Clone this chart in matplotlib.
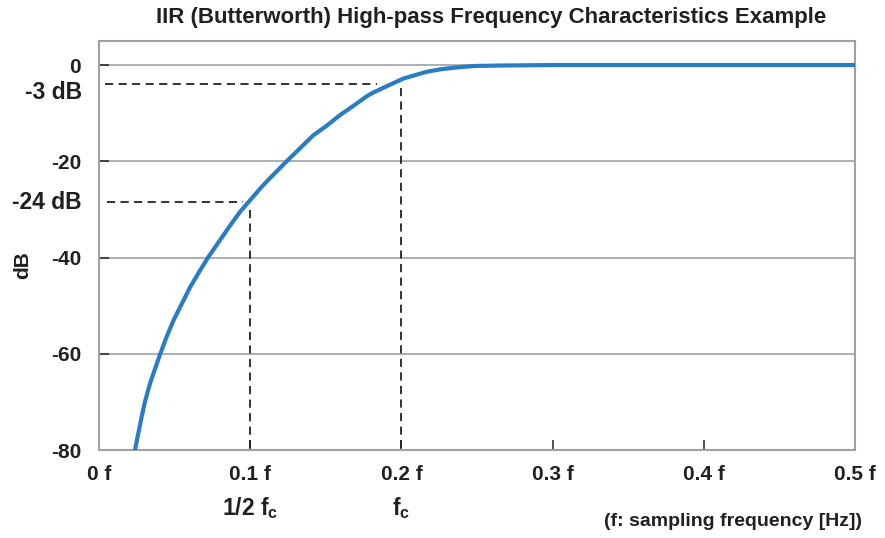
import matplotlib
matplotlib.use("Agg")
import matplotlib.pyplot as plt
import matplotlib.transforms as mtransforms

# frequency response (f = fraction of sampling freq)
freq = [0.0238, 0.0282, 0.0304, 0.0337, 0.0403, 0.0448, 0.0492, 0.0602,
        0.0668, 0.0723, 0.0866, 0.0933, 0.0988, 0.1065, 0.1109, 0.1241,
        0.1417, 0.1506, 0.1594, 0.1704, 0.1770, 0.1814, 0.2013, 0.2101,
        0.2167, 0.2255, 0.2366, 0.2476, 0.2650, 0.30, 0.40, 0.50]
gain = [-80.0, -73.1, -70.0, -66.2, -60.2, -56.4, -53.1, -46.2,
        -42.7, -39.9, -33.4, -30.5, -28.5, -25.7, -24.2, -20.0,
        -14.6, -12.6, -10.4, -8.0, -6.5, -5.7, -2.8, -2.0,
        -1.4, -0.9, -0.5, -0.2, -0.1, 0.0, 0.0, 0.0]

x_ticks = [0, 0.1, 0.2, 0.3, 0.4, 0.5]
x_labels = ["0 f", "0.1 f", "0.2 f", "0.3 f", "0.4 f", "0.5 f"]
y_ticks = [0, -20, -40, -60, -80]
y_labels = ["0", "-20", "-40", "-60", "-80"]

# marker lines (-3 dB at fc, -24 dB at fc/2)
fc = 0.2
half_fc = 0.1
mark_3db = -3.9
mark_24db = -28.5

plt.rcParams['font.family'] = ['Liberation Sans', 'DejaVu Sans']
plt.rcParams['font.weight'] = 'bold'
plt.rcParams['mathtext.fontset'] = 'custom'
plt.rcParams['mathtext.rm'] = 'Liberation Sans:bold'
plt.rcParams['mathtext.it'] = 'Liberation Sans:bold'
plt.rcParams['mathtext.bf'] = 'Liberation Sans:bold'

txt = '#231f20'
frame = '#9da1a5'
fs = 15
fs_big = 16.5

fig = plt.figure(figsize=(8.85, 5.38), dpi=100)
ax = fig.add_axes([99 / 885, 1 - 450 / 538, 756 / 885, 409 / 538])

ax.plot(freq, gain, color='#2a7cc4', lw=3, solid_capstyle='butt', zorder=3)

ax.set_xlim(0, 0.5)
ax.set_ylim(-80, 5)
ax.set_xticks(x_ticks)
ax.set_xticklabels(x_labels)
ax.set_yticks(y_ticks)
ax.set_yticklabels(y_labels)
ax.tick_params(direction='in', length=7, width=1.2, color='#333333',
               labelsize=fs, labelcolor=txt)
ax.tick_params(axis='x', pad=11)
ax.tick_params(axis='y', pad=13)
ax.grid(axis='y', color=frame, lw=1.2)
for s in ax.spines.values():
    s.set_color(frame)
    s.set_linewidth(1.5)

dash = dict(color='#222222', lw=1.3, ls=(0, (4.5, 3)), zorder=2)
ax.plot([0.004, 0.184], [mark_3db, mark_3db], **dash)
ax.plot([fc, fc], [-4.7, -80], **dash)
ax.plot([0.005, 0.0955], [mark_24db, mark_24db], **dash)
ax.plot([half_fc, half_fc], [-30.1, -80], **dash)

ytr = mtransforms.blended_transform_factory(ax.transAxes, ax.transData)
ax.text(-0.0225, -5.7, "-3 dB", transform=ytr, ha='right', va='center',
        fontsize=fs_big, color=txt)
ax.text(-0.0225, -28.6, "-24 dB", transform=ytr, ha='right', va='center',
        fontsize=fs_big, color=txt)

xtr = ax.get_xaxis_transform()
ax.text(half_fc, -0.143, "1/2 f$_{c}$", transform=xtr, ha='center',
        va='center', fontsize=fs_big, color=txt)
ax.text(fc, -0.143, "f$_{c}$", transform=xtr, ha='center', va='center',
        fontsize=fs_big, color=txt)

fig.text(491.5 / 885, 1 - 17 / 538,
         "IIR (Butterworth) High-pass Frequency Characteristics Example",
         ha='center', va='center', fontsize=16, color=txt)
fig.text(23 / 885, 1 - 265 / 538, "dB", rotation=90, ha='center',
         va='center', fontsize=fs, color=txt)
fig.text(861.7 / 885, 1 - 521.7 / 538, "(f: sampling frequency [Hz])",
         ha='right', va='center', fontsize=14, color=txt)

fig.savefig("out.png", dpi=100)
